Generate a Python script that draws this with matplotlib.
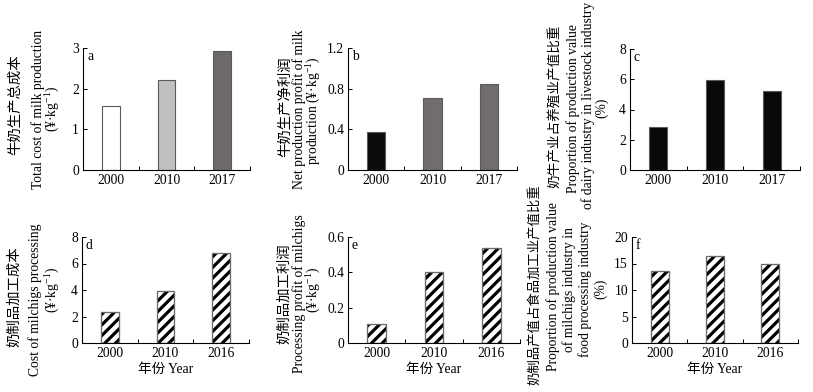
import numpy as np
import matplotlib
matplotlib.use('Agg')
import matplotlib.pyplot as plt

DPI = 64
W, H = 813, 392


def px(v):
    # pixels -> points at the chosen dpi
    return v * 72.0 / DPI


plt.rcParams['font.family'] = ['Liberation Serif', 'Noto Sans CJK SC']
plt.rcParams['mathtext.fontset'] = 'custom'
plt.rcParams['mathtext.rm'] = 'Liberation Serif'
plt.rcParams['mathtext.it'] = 'Liberation Serif:italic'
plt.rcParams['hatch.linewidth'] = px(3.2)
plt.rcParams['axes.linewidth'] = px(1.1)

# data
years_top = ['2000', '2010', '2017']
years_bottom = ['2000', '2010', '2016']
milk_cost = [1.58, 2.22, 2.93]
milk_profit = [0.37, 0.71, 0.85]
dairy_share = [2.85, 5.95, 5.25]
proc_cost = [2.36, 3.93, 6.80]
proc_profit = [0.106, 0.403, 0.540]
proc_share = [13.5, 16.5, 15.0]

unit = '(¥·kg$^{-1}$)'
year_label = '年份 Year'

TICK_PX = 13.6
CN_PX = 14.4

panels = [
    # letter, years, values, box(l, r, t, b), ylim, yticks, yticklabels, colors, hatched,
    # label lines, label x centres, label y centres, chinese size
    dict(letter='a', years=years_top, vals=milk_cost, box=(83, 250, 48, 170),
         ylim=3, yticks=[0, 1, 2, 3], ytl=['0', '1', '2', '3'],
         colors=['white', '#c1bfc0', '#6d686a'], hatch=False,
         lines=['牛奶生产总成本', 'Total cost of milk production', unit],
         lx=[15, 38, 53], ly=[105, 109, 109], cn=CN_PX),
    dict(letter='b', years=years_top, vals=milk_profit, box=(348, 517, 48, 170),
         ylim=1.2, yticks=[0, 0.4, 0.8, 1.2], ytl=['0', '0.4', '0.8', '1.2'],
         colors=['#0b0b0b', '#716c6e', '#716c6e'], hatch=False,
         lines=['牛奶生产净利润', 'Net production profit of milk', 'production ' + unit],
         lx=[285, 299, 314], ly=[107, 109, 111], cn=CN_PX),
    dict(letter='c', years=years_top, vals=dairy_share, box=(630, 800, 49, 170),
         ylim=8, yticks=[0, 2, 4, 6, 8], ytl=['0', '2', '4', '6', '8'],
         colors=['#080808', '#080808', '#080808'], hatch=False,
         lines=['奶牛产业占养殖业产值比重', 'Proportion of production value',
                'of dairy industry in livestock industry', '(%)'],
         lx=[555, 573, 588, 602], ly=[106, 109, 105, 108], cn=13.6),
    dict(letter='d', years=years_bottom, vals=proc_cost, box=(82, 249, 237, 343),
         ylim=8, yticks=[0, 2, 4, 6, 8], ytl=['0', '2', '4', '6', '8'],
         colors=None, hatch=True,
         lines=['奶制品加工成本', 'Cost of milchigs processing', unit],
         lx=[15, 35, 53], ly=[297, 300, 290], cn=CN_PX),
    dict(letter='e', years=years_bottom, vals=proc_profit, box=(348, 520, 237, 343),
         ylim=0.6, yticks=[0, 0.2, 0.4, 0.6], ytl=['0', '0.2', '0.4', '0.6'],
         colors=None, hatch=True,
         lines=['奶制品加工利润', 'Processing profit of milchigs', unit],
         lx=[285, 299, 314], ly=[294, 294, 290], cn=CN_PX),
    dict(letter='f', years=years_bottom, vals=proc_share, box=(632, 798, 237, 343),
         ylim=20, yticks=[0, 5, 10, 15, 20], ytl=['0', '5', '10', '15', '20'],
         colors=None, hatch=True,
         lines=['奶制品产值占食品加工业产值比重', 'Proportion of production value',
                'of milchigs industry in', 'food processing industry', '(%)'],
         lx=[535, 553, 569, 585, 601], ly=[285, 287, 289, 289, 289], cn=13.4),
]

fig = plt.figure(figsize=(W / DPI, H / DPI), dpi=DPI)

for p in panels:
    l, r, t, b = p['box']
    ax = fig.add_axes([l / W, 1 - b / H, (r - l) / W, (b - t) / H])
    x = np.arange(len(p['years']))
    if p['hatch']:
        ax.bar(x, p['vals'], 0.32, color='white', edgecolor='black', hatch='//', linewidth=0)
        ax.bar(x, p['vals'], 0.32, fill=False, edgecolor='#6a6a6a', linewidth=px(1.3))
    else:
        ax.bar(x, p['vals'], 0.32, color=p['colors'], edgecolor='#5a5a5a', linewidth=px(1.1))

    ax.set_xlim(-0.5, 2.5)
    ax.set_ylim(0, p['ylim'])
    ax.spines['top'].set_visible(False)
    ax.spines['right'].set_visible(False)

    ax.set_xticks(x)
    ax.set_xticklabels(p['years'])
    ax.set_xticks([-0.5, 0.5, 1.5, 2.5], minor=True)
    ax.tick_params(axis='x', which='major', length=0, pad=px(4), labelsize=px(TICK_PX))
    ax.tick_params(axis='x', which='minor', direction='in', length=px(4), width=px(1))
    ax.set_yticks(p['yticks'])
    ax.set_yticklabels(p['ytl'])
    ax.tick_params(axis='y', direction='in', length=px(4), width=px(1), pad=px(4),
                   labelsize=px(TICK_PX))

    ax.annotate(p['letter'], xy=(0, 1), xycoords='axes fraction',
                xytext=(px(4), -px(2)), textcoords='offset points',
                ha='left', va='top', fontsize=px(TICK_PX))

    for i, (line, lx, ly) in enumerate(zip(p['lines'], p['lx'], p['ly'])):
        size = p['cn'] if i == 0 else TICK_PX
        fig.text(lx / W, 1 - ly / H, line, rotation=90, ha='center', va='center',
                 fontsize=px(size))

    if p['hatch']:
        fig.text(((l + r) / 2) / W, 1 - 370 / H, year_label, ha='center', va='center',
                 fontsize=px(TICK_PX))

fig.savefig('out.png', dpi=DPI, facecolor='white')
